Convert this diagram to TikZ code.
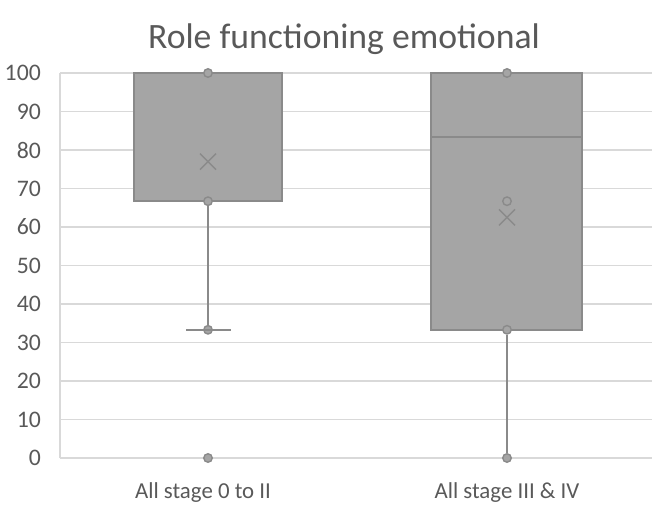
\documentclass[tikz,border=0pt]{standalone}
\usepackage{fontspec}
\setmainfont{Carlito}
\usepackage{tikz}
\usetikzlibrary{calc}
\definecolor{txtgray}{HTML}{595959}
\definecolor{gridgray}{HTML}{D9D9D9}
\definecolor{boxfill}{HTML}{A5A5A5}
\definecolor{boxedge}{HTML}{8A8A8A}
\newcommand{\valy}[1]{{49 + 3.85 * (#1)}}
\newcommand{\databox}[4]{ \draw[boxedge, line width=0.9pt, fill=boxfill] ( #1 , \valy{#3} ) rectangle ( #2 , \valy{#4} );}
\newcommand{\datapt}[3]{ \node[circle, draw=boxedge, fill=boxfill, line width=0.8pt, inner sep=0pt, minimum size=0.17cm] (#3) at ( #1 , \valy{#2} ) {};}
\newcommand{\meanmark}[3]{ \coordinate (#3) at ( #1 , \valy{#2} ); \draw[boxedge, line width=0.8pt] ($(#3)+(-8,-8)$) -- ($(#3)+(8,8)$) ($(#3)+(-8,8)$) -- ($(#3)+(8,-8)$);}
\newcommand{\catlabl}[3]{ \node[text=txtgray, font=\fontsize{13}{16}\selectfont] (#3) at ( #1 , 14 ) {#2};}

\begin{document}
\begin{tikzpicture}[x=0.02cm, y=0.02cm]
        \useasboundingbox (0,0) rectangle (652,507);
        \node[text=txtgray, font=\fontsize{20.3}{24}\selectfont] (title) at (344, 468) {Role functioning emotional};
        \foreach \v in {0,10,...,100} {
            \draw[gridgray, line width=0.8pt] (60, \valy{\v}) -- (652, \valy{\v});
            \node[text=txtgray, anchor=east, font=\fontsize{13.5}{16}\selectfont] (tick\v) at (47, \valy{\v}) {\v};
        }
        \draw[gridgray, line width=0.8pt] (60, \valy{0}) -- (60, \valy{100});
        % All stage 0 to II
        \databox{134}{282}{66.7}{100}
        \datapt{208}{100}{a100}
        \datapt{208}{66.7}{a67}
        \datapt{208}{33.3}{a33}
        \datapt{208}{0}{a0}
        \draw[boxedge, line width=0.9pt] (a67) -- (a33);
        \draw[boxedge, line width=0.9pt] (186, \valy{33.3}) -- (231, \valy{33.3});
        \meanmark{208}{77}{amean}
        \catlabl{203}{All stage 0 to II}{acat}
        % All stage III & IV
        \databox{431}{582}{33.3}{100}
        \draw[boxedge, line width=0.9pt] (431, \valy{83.3}) -- (582, \valy{83.3});
        \datapt{507}{100}{b100}
        \datapt{507}{66.7}{b67}
        \datapt{507}{33.3}{b33}
        \datapt{507}{0}{b0}
        \draw[boxedge, line width=0.9pt] (b33) -- (b0);
        \meanmark{507}{62.5}{bmean}
        \catlabl{507}{All stage III \& IV}{bcat}
    \end{tikzpicture}
\end{document}
